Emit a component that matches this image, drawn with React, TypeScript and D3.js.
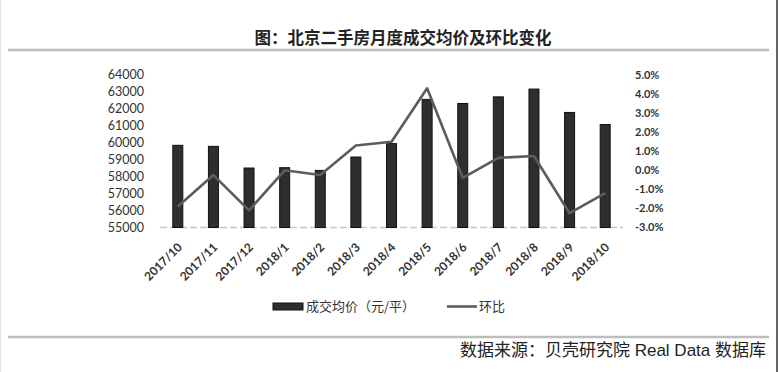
import React from "react";
import * as d3 from "d3";

const categories = ["2017/10","2017/11","2017/12","2018/1","2018/2","2018/3","2018/4","2018/5","2018/6","2018/7","2018/8","2018/9","2018/10"];
const avgPrice = [59850, 59790, 58510, 58530, 58370, 59160, 59950, 62560, 62320, 62710, 63170, 61790, 61080];
const momChange = [-1.9, -0.25, -2.1, 0.0, -0.25, 1.3, 1.5, 4.3, -0.4, 0.65, 0.75, -2.25, -1.2];
const leftTicks = [55000, 56000, 57000, 58000, 59000, 60000, 61000, 62000, 63000, 64000];
const rightTicks = [-3, -2, -1, 0, 1, 2, 3, 4, 5];
const title = "图：北京二手房月度成交均价及环比变化";
const legendBar = "成交均价（元/平）";
const legendLine = "环比";
const source = "数据来源：贝壳研究院 Real Data 数据库";

const W = 780, H = 372;
const NUM_FONT = "Lato, 'Open Sans', sans-serif";
const CJK_FONT = "'Noto Sans CJK SC', 'Noto Sans', sans-serif";
const SRC_FONT = "'Liberation Sans', 'Noto Sans CJK SC', sans-serif";

export default function App() {
  const x = d3.scaleBand<string>().domain(categories).range([160, 623]);
  const yL = d3.scaleLinear().domain([55000, 64000]).range([227.5, 75]);
  const yR = d3.scaleLinear().domain([-3, 5]).range([227.5, 75]);
  const barW = 10;
  const line = d3.line<number>()
    .x((_, i) => (x(categories[i]) as number) + x.bandwidth() / 2)
    .y((d) => yR(d));

  return (
    <svg width={W} height={H} style={{ position: "absolute", left: 0, top: 0, background: "#fff" }}>
      <rect x={0} y={0} width={W} height={H} fill="#fff" />
      {/* frame lines */}
      <line x1={777} x2={777} y1={0} y2={H} stroke="#333" strokeWidth={1.5} />
      <line x1={0.5} x2={0.5} y1={0} y2={H} stroke="#e6e6e6" strokeWidth={1} />
      <line x1={8} x2={769} y1={50} y2={50} stroke="#bdbdbd" strokeWidth={2.5} />
      <line x1={8} x2={769} y1={337} y2={337} stroke="#bdbdbd" strokeWidth={2.5} />

      <text x={403} y={44} textAnchor="middle" fontFamily={CJK_FONT} fontWeight={700} fontSize={16.5} fill="#222">{title}</text>

      {/* left axis labels */}
      {leftTicks.map((t) => (
        <text key={t} x={144} y={yL(t)} dy="0.35em" textAnchor="end" fontFamily={NUM_FONT} fontSize={12.5} fill="#333">{t}</text>
      ))}
      {/* right axis labels */}
      {rightTicks.map((t) => (
        <text key={t} x={635} y={yR(t)} dy="0.35em" textAnchor="start" fontFamily={NUM_FONT} fontWeight={700} fontSize={11} fill="#333">{t.toFixed(1) + "%"}</text>
      ))}

      {/* x axis line */}
      <line x1={x.range()[0]} x2={x.range()[1]} y1={227.5} y2={227.5} stroke="#c8c8c8" strokeWidth={1.5} strokeDasharray="7,3" />

      {/* bars */}
      {avgPrice.map((v, i) => {
        const cx = (x(categories[i]) as number) + x.bandwidth() / 2;
        return (
          <rect key={i} x={cx - barW / 2} y={yL(v)} width={barW} height={yL(55000) - yL(v)} fill="#2e2e2e" stroke="#111" strokeWidth={1} />
        );
      })}

      {/* line */}
      <path d={line(momChange) as string} fill="none" stroke="#5c5c5c" strokeWidth={2.6} strokeLinejoin="round" />

      {/* x labels */}
      {categories.map((c) => {
        const cx = (x(c) as number) + x.bandwidth() / 2;
        return (
          <text key={c} transform={`translate(${cx + 5},${248}) rotate(-45)`} textAnchor="end" fontFamily={NUM_FONT} fontWeight={700} fontSize={12} fill="#333">{c}</text>
        );
      })}

      {/* legend */}
      <rect x={273} y={303} width={30} height={7} fill="#2e2e2e" stroke="#111" strokeWidth={1} />
      <text x={306} y={306.5} dy="0.35em" fontFamily={CJK_FONT} fontSize={13} fill="#333">{legendBar}</text>
      <line x1={447} x2={477} y1={306.5} y2={306.5} stroke="#5c5c5c" strokeWidth={2.6} />
      <text x={479} y={306.5} dy="0.35em" fontFamily={CJK_FONT} fontSize={13} fill="#333">{legendLine}</text>

      <text x={766} y={350} dy="0.35em" textAnchor="end" fontFamily={SRC_FONT} fontSize={17} fill="#222">{source}</text>
    </svg>
  );
}
